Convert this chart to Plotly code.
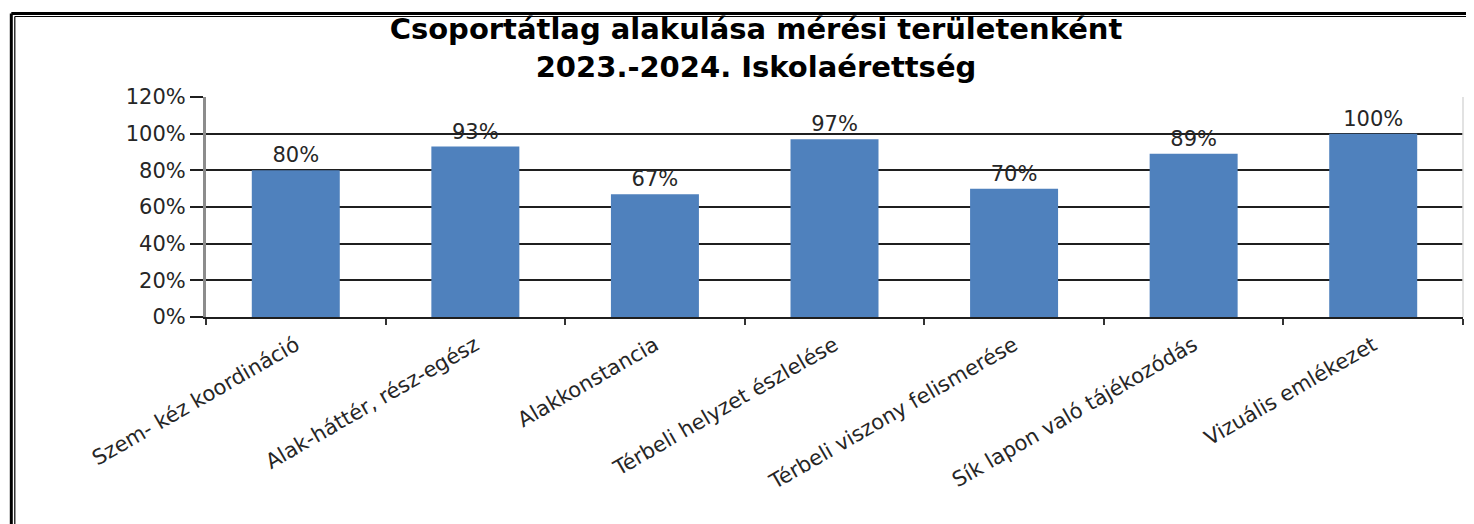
import plotly.graph_objects as go

categories = [
    "Szem- kéz koordináció",
    "Alak-háttér, rész-egész",
    "Alakkonstancia",
    "Térbeli helyzet észlelése",
    "Térbeli viszony felismerése",
    "Sík lapon való tájékozódás",
    "Vizuális emlékezet",
]
values = [0.80, 0.93, 0.67, 0.97, 0.70, 0.89, 1.00]
title_lines = ["Csoportátlag alakulása mérési területenként", "2023.-2024. Iskolaérettség"]

W, H = 1474, 524
OFF = 8  # page body margin offset
L, R, T, B = 206 - OFF, 1463 - OFF, 97 - OFF, 317 - OFF


def px(x):
    return (x - OFF - L) / (R - L)


def py(y):
    return (B - (y - OFF)) / (B - T)


fig = go.Figure(
    go.Bar(
        x=categories,
        y=values,
        marker=dict(color="#4F81BD", line=dict(width=0)),
        texttemplate="%{y:.0%}",
        textposition="outside",
        textfont=dict(family="DejaVu Sans", size=21, color="#262626"),
        constraintext="none",
        cliponaxis=False,
    )
)

shapes = [
    # right edge faint line
    dict(type="line", xref="paper", yref="paper", x0=1, x1=1, y0=0, y1=1,
         line=dict(color="#d9d9d9", width=1.5)),
    # outer thick border
    dict(type="line", xref="paper", yref="paper", x0=px(11.3), x1=px(11.3), y0=py(13.5), y1=py(560),
         line=dict(color="#000000", width=3)),
    dict(type="line", xref="paper", yref="paper", x0=px(11.3), x1=px(1520), y0=py(13.5), y1=py(13.5),
         line=dict(color="#000000", width=3)),
    # inner thin border
    dict(type="line", xref="paper", yref="paper", x0=px(14.8), x1=px(14.8), y0=py(16.5), y1=py(560),
         line=dict(color="#000000", width=1.2)),
    dict(type="line", xref="paper", yref="paper", x0=px(14.8), x1=px(1520), y0=py(16.5), y1=py(16.5),
         line=dict(color="#000000", width=1.2)),
]

fig.update_layout(
    width=W,
    height=H,
    margin=dict(l=L, r=W - R, t=T, b=H - B, pad=0),
    paper_bgcolor="white",
    plot_bgcolor="white",
    bargap=0.51,
    showlegend=False,
    font=dict(family="DejaVu Sans", color="#262626"),
    title=dict(
        text="<b>" + title_lines[0] + "</b><br><b>" + title_lines[1] + "</b>",
        x=(756 - OFF) / W,
        xanchor="center",
        y=1 - (39 - OFF) / H,
        yanchor="middle",
        font=dict(family="DejaVu Sans", size=29, color="#000000"),
    ),
    shapes=shapes,
)

fig.update_yaxes(
    range=[0, 1.2],
    dtick=0.2,
    tickformat=".0%",
    showgrid=True,
    gridcolor="#1f1f1f",
    gridwidth=1.5,
    showline=True,
    linecolor="#8c8c8c",
    linewidth=3,
    ticks="outside",
    ticklen=13,
    tickwidth=1.5,
    tickcolor="#1f1f1f",
    tickfont=dict(family="DejaVu Sans", size=21, color="#262626"),
    zeroline=False,
)

fig.update_xaxes(
    tickangle=-30,
    tickson="boundaries",
    ticks="outside",
    ticklen=6,
    tickwidth=1.5,
    tickcolor="#333333",
    showline=True,
    linecolor="#1f1f1f",
    linewidth=1.5,
    tickfont=dict(family="DejaVu Sans", size=21, color="#262626"),
    ticklabelstandoff=6,
)

fig.write_html("out.html")
